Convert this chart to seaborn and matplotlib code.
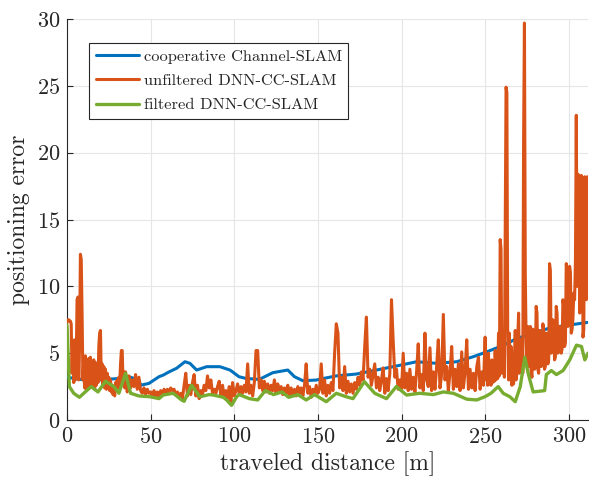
import numpy as np
import pandas as pd
import matplotlib
matplotlib.use("Agg")
import matplotlib.pyplot as plt
import seaborn as sns

# ---------------- data ----------------
blue_x = [0, 10, 20, 30, 37, 43, 44, 49, 55, 57.5, 61, 65.5, 70.5, 73.5, 77.5, 83.5, 91.4,
          97.4, 99, 102.8, 107, 115, 123, 132, 136, 141, 149, 153, 161, 173, 185, 195,
          203, 209, 221, 233, 243, 251, 261, 269, 279, 289, 300, 311]
blue_y = [3.2, 3.0, 3.0, 3.1, 3.24, 2.99, 2.6, 2.74, 3.24, 3.36, 3.6, 3.87, 4.36, 4.24, 3.74,
          3.99, 3.99, 3.74, 3.6, 3.24, 3.11, 3.04, 3.54, 3.74, 3.24, 2.94, 2.99, 3.1, 3.3,
          3.44, 3.74, 3.99, 4.2, 4.36, 4.24, 4.36, 4.74, 5.1, 5.6, 6.1, 6.5, 6.9, 7.1, 7.3]

green_x = [0, 1.4, 4, 7.4, 10, 14.5, 18.5, 23, 28, 31, 35, 38, 43, 49.6, 55, 57.5, 63.5,
           68.5, 70, 74.5, 79.4, 85, 87.4, 93.5, 95.4, 98.4, 101.4, 103, 109, 114, 118.6,
           123.5, 128.5, 132.5, 138, 143, 148, 152, 155, 161, 167, 171, 177.8, 184, 191,
           196.9, 203, 211, 219, 225, 231, 239, 245, 250, 253.5, 257.8, 260.8, 264.8, 268,
           271, 273.7, 275.7, 278.7, 285.6, 286.6, 289.6, 292.6, 296.6, 300.6, 304.6,
           307.6, 309.6, 311.5]
green_y = [7.1, 2.5, 2.0, 1.7, 2.0, 2.5, 2.1, 2.9, 2.5, 2.0, 3.5, 2.0, 1.8, 1.74, 1.6, 1.87,
           2.0, 1.5, 1.4, 2.6, 1.74, 1.9, 1.87, 1.7, 1.5, 1.1, 1.74, 1.9, 1.6, 1.5, 2.2,
           1.9, 2.1, 1.7, 1.9, 1.5, 1.9, 1.6, 1.37, 2.0, 1.74, 1.6, 2.87, 2.0, 1.6, 2.5,
           1.87, 2.0, 1.9, 2.1, 2.0, 1.56, 1.5, 1.75, 2.0, 2.5, 2.0, 1.74, 1.37, 2.5, 4.7,
           3.5, 2.1, 2.2, 3.4, 3.7, 3.4, 3.7, 4.5, 5.6, 5.5, 4.5, 5.0]

# positions: 0.5 m steps on 0-34.5, 1 m steps on 35-249, 0.5 m steps on 250-311.5
orange_x = (list(np.arange(0, 35, 0.5)) + list(range(35, 250))
            + list(np.arange(250, 312, 0.5)))
orange_y = [
    # 0 - 34.5 (0.5 m)
    7.3, 7.5, 7.5, 7.4, 7.4, 7.2, 3.5, 5.8, 2.8, 6.0,
    3.0, 4.5, 9.0, 9.2, 3.0, 5.5, 12.4, 12.0, 8.0, 3.0,
    4.5, 2.4, 4.8, 2.3, 4.5, 2.5, 4.6, 2.4, 4.7, 2.6,
    4.4, 2.5, 4.5, 2.3, 4.3, 2.6, 4.0, 2.8, 5.5, 6.5,
    6.7, 3.0, 4.2, 2.6, 4.0, 2.4, 3.8, 2.3, 3.5, 2.4,
    3.2, 2.2, 3.0, 2.1, 2.6, 1.9, 2.4, 1.8, 2.8, 2.2,
    3.0, 2.4, 3.2, 2.6, 4.2, 5.2, 5.2, 2.8, 3.6, 2.4,
    # 35-50
    3.6, 2.1, 3.3, 2.4, 3.0, 2.5, 3.4, 2.3, 3.2, 2.2, 2.0, 2.4, 1.9, 2.3, 2.0, 2.1,
    # 51-100
    1.8, 2.2, 1.7, 2.1, 1.8, 2.2, 1.9, 2.3, 2.0, 2.3, 2.1, 2.4, 2.2, 2.3, 1.9, 2.1, 1.7,
    2.0, 1.6, 2.6, 3.5, 1.8, 2.6, 1.9, 2.8, 3.4, 1.8, 2.6, 1.6, 2.2, 1.9, 2.6, 2.2, 3.3,
    2.4, 3.0, 2.0, 2.3, 2.0, 2.5, 2.9, 1.8, 2.6, 1.7, 2.2, 1.6, 2.5, 1.3, 2.8, 1.8,
    # 101-150
    2.2, 2.7, 1.9, 2.5, 2.0, 2.6, 2.1, 4.2, 2.0, 2.6, 1.8, 2.8, 5.2, 5.2, 2.4, 3.0, 2.2,
    2.9, 2.1, 2.7, 2.0, 2.6, 2.2, 3.0, 2.0, 2.7, 2.2, 2.5, 1.9, 2.4, 2.0, 2.6, 1.8, 2.4,
    1.9, 2.3, 1.8, 2.5, 2.0, 2.4, 1.8, 2.6, 4.2, 2.0, 2.5, 1.7, 2.3, 1.9, 2.6, 2.0,
    # 151-200
    2.3, 4.2, 2.0, 3.0, 1.8, 2.6, 2.0, 2.8, 2.2, 5.0, 7.2, 6.5, 2.4, 3.2, 2.2, 4.0, 2.0,
    2.9, 2.1, 2.7, 2.0, 2.8, 2.3, 3.2, 2.6, 3.6, 3.0, 5.5, 7.7, 3.2, 3.8, 2.6, 3.4, 4.2,
    2.4, 3.2, 2.2, 3.0, 3.9, 2.0, 3.1, 2.2, 3.5, 9.0, 6.0, 3.2, 3.8, 2.3, 3.0, 2.2,
    # 201-249
    5.0, 2.4, 3.5, 2.2, 3.8, 2.3, 3.2, 2.1, 3.6, 5.7, 2.4, 3.4, 2.2, 6.5, 3.0, 2.5, 5.4,
    2.2, 3.6, 2.3, 4.0, 6.0, 2.4, 3.4, 7.9, 3.0, 4.0, 2.2, 3.6, 5.5, 2.3, 3.8, 2.5, 4.2,
    2.2, 5.1, 2.4, 3.6, 6.0, 2.3, 3.8, 2.4, 3.5, 2.2, 4.0, 4.7, 2.3, 3.6, 2.6,
    # 250 - 311.5 (0.5 m)
    6.2, 3.0, 4.8, 2.6, 5.0, 2.7, 4.0, 2.6, 4.5, 2.8,
    4.0, 2.9, 5.2, 3.0, 4.5, 3.1, 6.5, 3.3, 13.5, 12.8,
    3.5, 5.0, 6.0, 3.2, 14.0, 24.9, 24.5, 6.5, 3.0, 6.5,
    3.0, 5.5, 2.6, 5.0, 2.7, 4.5, 6.7, 3.0, 3.5, 6.0,
    8.0, 3.5, 4.0, 6.0, 5.0, 3.5, 21.2, 29.7, 11.0, 6.0,
    4.5, 7.0, 4.0, 6.5, 7.0, 3.5, 3.2, 6.8, 6.5, 3.8,
    4.0, 8.5, 8.0, 3.8, 3.5, 6.7, 6.2, 4.0, 4.2, 7.2,
    6.8, 3.8, 4.0, 6.5, 6.0, 4.2, 4.5, 11.7, 11.2, 5.0,
    5.2, 7.5, 7.0, 4.5, 4.7, 8.5, 8.0, 5.0, 5.2, 7.0,
    6.6, 5.0, 5.3, 9.0, 8.5, 5.5, 5.8, 11.7, 11.2, 7.0,
    7.3, 11.5, 11.0, 6.5, 6.8, 7.6, 9.5, 9.0, 12.0, 22.8,
    10.0, 18.4, 17.5, 8.0, 8.5, 18.3, 17.8, 6.2, 6.8, 18.2,
    14.0, 9.0, 18.2, 14.0,
]

labels = ["cooperative Channel-SLAM", "unfiltered DNN-CC-SLAM", "filtered DNN-CC-SLAM"]
colors = ["#0072BD", "#D95319", "#77AC30"]
x_ticks = [0, 50, 100, 150, 200, 250, 300]
y_ticks = [0, 5, 10, 15, 20, 25, 30]

# ---------------- plotting ----------------
sns.set_theme(style="whitegrid")
plt.rcParams["font.family"] = ["cmr10", "DejaVu Serif"]
plt.rcParams["axes.formatter.use_mathtext"] = True
plt.rcParams["mathtext.fontset"] = "cm"

fig = plt.figure(figsize=(5.9, 4.84), dpi=100)
ax = fig.add_axes([0.1136, 0.1322, 0.883, 0.8285])

df_b = pd.DataFrame({"x": blue_x, "y": blue_y})
df_o = pd.DataFrame({"x": orange_x, "y": orange_y})
df_g = pd.DataFrame({"x": green_x, "y": green_y})

sns.lineplot(data=df_b, x="x", y="y", ax=ax, color=colors[0], linewidth=2.2,
             label=labels[0], sort=False, zorder=3)
sns.lineplot(data=df_o, x="x", y="y", ax=ax, color=colors[1], linewidth=2.2,
             label=labels[1], sort=False, zorder=4)
sns.lineplot(data=df_g, x="x", y="y", ax=ax, color=colors[2], linewidth=2.4,
             label=labels[2], sort=False, zorder=5)

ax.set_xlim(0, 311.5)
ax.set_ylim(0, 30)
ax.set_xticks(x_ticks)
ax.set_yticks(y_ticks)
ax.set_facecolor("white")
ax.grid(True, color="#e6e6e6", linewidth=0.8)
for s in ["top", "right"]:
    ax.spines[s].set_visible(False)
for s in ["left", "bottom"]:
    ax.spines[s].set_visible(True)
    ax.spines[s].set_color("#262626")
    ax.spines[s].set_linewidth(0.8)
ax.tick_params(direction="in", length=4, width=0.8, color="#262626",
               labelsize=16, labelcolor="#262626", pad=5)
ax.tick_params(axis="both", which="both", bottom=True, left=True)
ax.set_xlabel("traveled distance [m]", fontsize=17, color="#262626", labelpad=3)
ax.set_ylabel("positioning error", fontsize=17, color="#262626", labelpad=5)

leg = ax.legend(loc="upper left", bbox_to_anchor=(0.043, 0.941), borderaxespad=0,
                fontsize=11.8, frameon=True, fancybox=False, framealpha=1,
                edgecolor="#262626", handlelength=2.6, borderpad=0.4,
                labelspacing=0.6, handletextpad=0.3)
leg.get_frame().set_linewidth(0.8)

fig.savefig("out.png", dpi=100)
